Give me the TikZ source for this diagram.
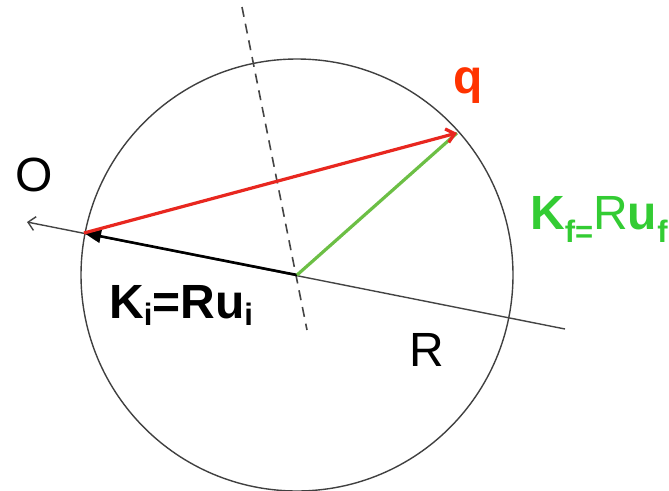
\documentclass[tikz,border=0pt]{standalone}
\usepackage{fontspec}
\setmainfont{Liberation Sans}
\usetikzlibrary{arrows.meta}
\definecolor{lgray}{HTML}{444444}
\definecolor{redline}{HTML}{E8271F}
\definecolor{qred}{HTML}{FF3300}
\definecolor{greenline}{HTML}{6CBF45}
\definecolor{greentext}{HTML}{33CC33}
\newcommand{\bigf}{\fontsize{48}{48}\selectfont}
\newcommand{\subf}{\fontsize{31}{31}\selectfont}
\tikzset{
  thinline/.style={draw=lgray, line width=1.4pt},
  lbl/.style={inner sep=0pt, anchor=base west, font=\bigf},
}
\begin{document}
\begin{tikzpicture}[x=1pt,y=-1pt]
\useasboundingbox (0,0) rectangle (669,490);
\coordinate (C) at (297,275);
\coordinate (A) at (84,233);
\coordinate (Q) at (457,133);
\coordinate (L1) at (27,222);
\coordinate (L2) at (565,329);
\coordinate (D1) at (242,7);
\coordinate (D2) at (307,330);
% circle
\draw[thinline, draw=black!75] (C) circle [radius=216pt];
% dashed line
\draw[thinline, line width=1.6pt, dash pattern=on 10pt off 7pt] (D1) -- (D2);
% axis line
\draw[thinline, -{Straight Barb[length=7pt,width=14pt]}] (L2) -- (L1);
% vectors
\draw[line width=2.6pt, black, -{Triangle[length=17pt,width=13pt]}] (C) -- (A);
\draw[line width=3.2pt, greenline] (C) -- (Q);
\draw[line width=3.2pt, redline, -{Straight Barb[length=8pt,width=14pt]}] (A) -- (Q);
% labels
\node[lbl] (lO) at (15,191) {O};
\node[lbl, text=qred] (lq) at (453,93) {\textbf{q}};
\node[lbl] (lKi) at (109,318) {\textbf{K\raisebox{-7pt}{\subf i}=Ru\raisebox{-7pt}{\subf i}}};
\node[lbl, text=greentext] (lKf) at (530,229) {\textbf{K\raisebox{-13pt}{\subf f=}}R\textbf{u\raisebox{-13pt}{\subf f}}};
\node[lbl] (lR) at (409,366) {R};
\end{tikzpicture}
\end{document}
